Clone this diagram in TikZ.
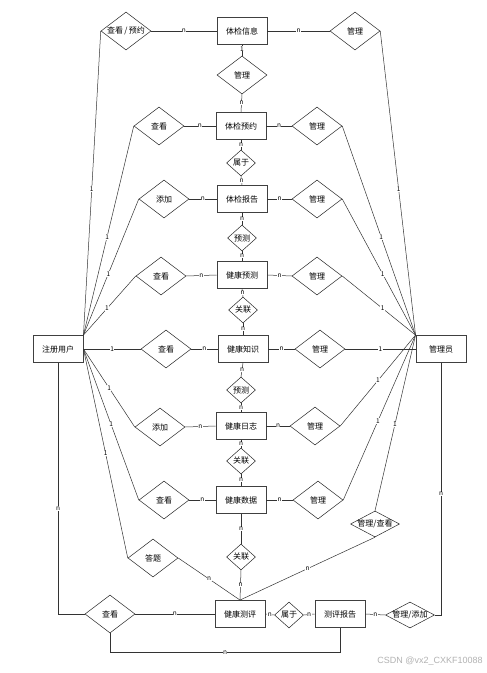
\documentclass[tikz,border=0pt]{standalone}
\usepackage{fontspec}
\setmainfont{Noto Sans CJK SC}
\newfontfamily\wmfont{Liberation Sans}
\usetikzlibrary{shapes.geometric}

\tikzset{
  ent/.style={draw=black!75, line width=0.9pt, minimum width=50pt, minimum height=27pt,
    inner sep=1pt, font=\fontsize{8}{9}\selectfont},
  rel/.style={diamond, draw=black!85, line width=0.5pt, inner sep=0pt,
    minimum width=50pt, minimum height=38pt, font=\fontsize{8}{9}\selectfont,
    execute at begin node={\hbox to 0pt\bgroup\hss}, execute at end node={\hss\egroup}},
  relsm/.style={rel, minimum width=29pt, minimum height=26pt},
  relflat/.style={rel, minimum width=49pt, minimum height=26pt},
  lbl/.style={fill=white, inner sep=0.4pt, font=\fontsize{6.5}{7}\selectfont},
  conn/.style={draw=black!80, line width=0.5pt}
}

\begin{document}
\begin{tikzpicture}[x=1pt, y=-1pt]
\useasboundingbox[fill=white] (0,0) rectangle (487,673);

% Entitaeten
\node[ent] (info)  at (242,31)  {体检信息};
\node[ent] (appt)  at (241,126) {体检预约};
\node[ent] (rpt)   at (242,199) {体检报告};
\node[ent] (pred)  at (242,275) {健康预测};
\node[ent] (know)  at (243,349) {健康知识};
\node[ent] (diary) at (241,426) {健康日志};
\node[ent] (data)  at (241,500) {健康数据};
\node[ent] (eval)  at (240,614) {健康测评};
\node[ent] (erpt)  at (340,614) {测评报告};
\node[ent] (user)  at (58,349)  {注册用户};
\node[ent] (admin) at (441,349) {管理员};

% Beziehungen links
\node[rel] (ubook)   at (126,31)  {查看\,/\,预约};
\node[rel] (uappt)   at (159,126) {查看};
\node[rel] (urpt)    at (164,199) {添加};
\node[rel] (upred)   at (161,276) {查看};
\node[rel] (uknow)   at (166,349) {查看};
\node[rel] (udiary)  at (160,427) {添加};
\node[rel] (udata)   at (164,500) {查看};
\node[rel] (uans)    at (153,558) {答题};
\node[rel] (useeval) at (110,614) {查看};

% Beziehungen rechts
\node[rel] (ainfo)  at (355,31)  {管理};
\node[rel] (aappt)  at (317,126) {管理};
\node[rel] (arpt)   at (317,199) {管理};
\node[rel] (apred)  at (317,276) {管理};
\node[rel] (aknow)  at (320,349) {管理};
\node[rel] (adiary) at (315,426) {管理};
\node[rel] (adata)  at (318,500) {管理};
\node[relflat] (aeval) at (375,524) {管理/查看};
\node[relflat] (aerpt) at (410,615) {管理/添加};

% Beziehungen Mitte
\node[rel]   (mappt) at (242,75)  {管理};
\node[relsm] (of1)   at (241,163) {属于};
\node[relsm] (fc1)   at (242,238) {预测};
\node[relsm] (ln1)   at (243,310) {关联};
\node[relsm] (fc2)   at (241,390) {预测};
\node[relsm] (ln2)   at (241,461) {关联};
\node[relsm] (ln3)   at (241,557) {关联};
\node[relsm] (of2)   at (289,615) {属于};

% Mittelspalte
\draw[conn] (ubook.east) -- node[lbl]{n} (info.west);
\draw[conn] (info.east) -- node[lbl]{n} (ainfo.west);
\draw[conn] (info.south) -- node[lbl,pos=.35]{1} (mappt.north);
\draw[conn] (mappt.south) -- node[lbl]{n} (appt.north);
\draw[conn] (uappt.east) -- node[lbl]{n} (appt.west);
\draw[conn] (appt.east) -- node[lbl]{n} (aappt.west);
\draw[conn] (appt.south) -- node[lbl]{n} (of1.north);
\draw[conn] (of1.south) -- node[lbl]{n} (rpt.north);
\draw[conn] (urpt.east) -- node[lbl]{n} (rpt.west);
\draw[conn] (rpt.east) -- node[lbl]{n} (arpt.west);
\draw[conn] (rpt.south) -- node[lbl]{n} (fc1.north);
\draw[conn] (fc1.south) -- node[lbl]{n} (pred.north);
\draw[conn] (upred.east) -- node[lbl]{n} (pred.west);
\draw[conn] (pred.east) -- node[lbl]{n} (apred.west);
\draw[conn] (pred.south) -- node[lbl]{n} (ln1.north);
\draw[conn] (ln1.south) -- node[lbl]{n} (know.north);
\draw[conn] (uknow.east) -- node[lbl]{n} (know.west);
\draw[conn] (know.east) -- node[lbl]{n} (aknow.west);
\draw[conn] (know.south) -- node[lbl]{n} (fc2.north);
\draw[conn] (fc2.south) -- node[lbl]{n} (diary.north);
\draw[conn] (udiary.east) -- node[lbl]{n} (diary.west);
\draw[conn] (diary.east) -- node[lbl]{n} (adiary.west);
\draw[conn] (diary.south) -- node[lbl]{n} (ln2.north);
\draw[conn] (ln2.south) -- node[lbl]{n} (data.north);
\draw[conn] (udata.east) -- node[lbl]{n} (data.west);
\draw[conn] (data.east) -- node[lbl]{n} (adata.west);
\draw[conn] (data.south) -- node[lbl]{n} (ln3.north);
\draw[conn] (ln3.south) -- node[lbl]{n} (eval.north);
\draw[conn] (uans.east) -- node[lbl]{n} (eval.north);
\draw[conn] (aeval.south) -- node[lbl]{n} (eval.north);
\draw[conn] (useeval.east) -- node[lbl]{n} (eval.west);
\draw[conn] (eval.east) -- node[lbl]{n} (of2.west);
\draw[conn] (of2.east) -- node[lbl]{n} (erpt.west);
\draw[conn] (erpt.east) -- node[lbl]{n} (aerpt.west);
\draw[conn] (useeval.south) -- ++(0,19) -| node[lbl,pos=.25]{n} (erpt.south);

% Benutzer
\draw[conn] (user.north east) -- node[lbl,pos=.48]{1} (ubook.west);
\draw[conn] (user.north east) -- node[lbl,pos=.47]{1} (uappt.west);
\draw[conn] (user.north east) -- node[lbl,pos=.45]{1} (urpt.west);
\draw[conn] (user.north east) -- node[lbl,pos=.45]{1} (upred.west);
\draw[conn] (user.east) -- node[lbl]{1} (uknow.west);
\draw[conn] (user.east) -- node[lbl]{1} (udiary.west);
\draw[conn] (user.east) -- node[lbl]{1} (udata.west);
\draw[conn] (user.east) -- node[lbl]{1} (uans.west);
\draw[conn] (user.south) |- node[lbl,pos=.29]{n} (useeval.west);

% Administrator
\draw[conn] (ainfo.east) -- node[lbl,pos=.52]{1} (admin.north west);
\draw[conn] (aappt.east) -- node[lbl,pos=.53]{1} (admin.north west);
\draw[conn] (arpt.east) -- node[lbl,pos=.55]{1} (admin.north west);
\draw[conn] (apred.east) -- node[lbl,pos=.55]{1} (admin.north west);
\draw[conn] (aknow.east) -- node[lbl]{1} (admin.west);
\draw[conn] (adiary.east) -- node[lbl]{1} (admin.north west);
\draw[conn] (adata.east) -- node[lbl,pos=.48]{1} (admin.north west);
\draw[conn] (aeval.north) -- node[lbl,pos=.49]{1} (admin.north west);
\draw[conn] (admin.south) |- node[lbl,pos=.26]{n} (aerpt.east);

% Wasserzeichen
\node[text=black!30, font=\wmfont\fontsize{9}{10}\selectfont] (wm) at (430,661) {CSDN @vx2\_CXKF10088};

\end{tikzpicture}
\end{document}
